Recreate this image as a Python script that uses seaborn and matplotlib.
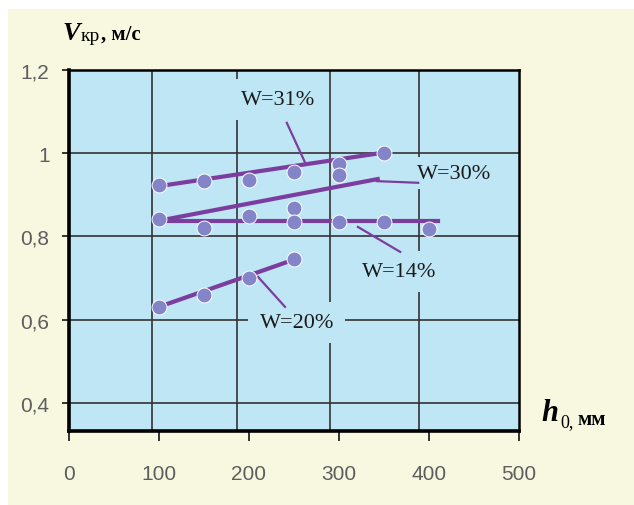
import matplotlib
matplotlib.use("Agg")
import matplotlib.pyplot as plt
from matplotlib.patches import Rectangle
from matplotlib.ticker import FixedLocator
import numpy as np
import pandas as pd
import seaborn as sns

# ---- measured points V_kr (m/s) against h0 (mm) ----
w31_h = [100, 150, 200, 250, 300, 350]
w31_v = [0.924, 0.933, 0.936, 0.955, 0.974, 1.0]

w30_h = [100, 200, 250, 300]
w30_v = [0.842, 0.849, 0.868, 0.948]

w14_h = [150, 250, 300, 350, 400]
w14_v = [0.820, 0.835, 0.835, 0.835, 0.818]

w20_h = [100, 150, 200, 250]
w20_v = [0.631, 0.659, 0.700, 0.746]

# ---- trend lines (end points) ----
w31_fit_h = [100, 345]
w31_fit_v = [0.921, 1.0]
w30_fit_h = [100, 343]
w30_fit_v = [0.838, 0.938]
w14_fit_h = [100, 410]
w14_fit_v = [0.837, 0.837]
w20_fit_h = [100, 252]
w20_fit_v = [0.631, 0.746]

# ---- series labels with leader lines ----
labels = ["W=31%", "W=30%", "W=14%", "W=20%"]
label_h = [232, 428, 367, 253]
label_v = [1.130, 0.952, 0.715, 0.594]
label_pad = [0.5, 0.3, 0.5, 0.5]
leader_h = [[242, 262], [342, 388], [321, 368], [210, 240]]
leader_v = [[1.073, 0.979], [0.933, 0.929], [0.823, 0.763], [0.703, 0.631]]

# ---- axes ----
x_ticks = [0, 100, 200, 300, 400, 500]
y_ticks = [0.4, 0.6, 0.8, 1.0, 1.2]
y_tick_labels = ["0,4", "0,6", "0,8", "1", "1,2"]
x_grid = [92, 187, 290, 389]

W, H, DPI = 634, 506, 100
YELLOW = "#f8f8e0"
BLUE = "#bfe6f4"
PURPLE = "#7b3e9e"
DOT = "#8484c8"
GRID = "#333333"
TICK_GREY = "#5e5e5e"

fig = plt.figure(figsize=(W / DPI, H / DPI), dpi=DPI, facecolor="white")
# cream panel behind the chart
fig.patches.append(Rectangle((8 / W, 0), 1 - 8 / W, 1 - 10 / H,
                             transform=fig.transFigure, facecolor=YELLOW,
                             edgecolor="none", zorder=-10))

ax = fig.add_axes([69 / W, 1 - 432 / H, 450 / W, 361 / H])
ax.set_zorder(1)
ax.set_facecolor(BLUE)
ax.set_xlim(0, 500)
ax.set_ylim(0.3327, 1.2)

# grid
ax.set_axisbelow(True)
ax.xaxis.set_major_locator(FixedLocator(x_ticks))
ax.xaxis.set_minor_locator(FixedLocator(x_grid))
ax.yaxis.set_major_locator(FixedLocator(y_ticks))
ax.set_yticklabels(y_tick_labels)
ax.grid(False)
ax.grid(True, which="minor", axis="x", color=GRID, lw=1.2, zorder=0.5)
ax.grid(True, which="major", axis="y", color=GRID, lw=1.2, zorder=0.5)

tick_font = dict(family="Liberation Sans", size=15, color=TICK_GREY)
for lab in ax.get_xticklabels() + ax.get_yticklabels():
    lab.set_fontfamily(tick_font["family"])
    lab.set_fontsize(tick_font["size"])
    lab.set_color(tick_font["color"])
ax.tick_params(axis="x", which="major", direction="out", length=7, width=1.4,
               color="#333333", pad=17)
ax.tick_params(axis="y", which="major", direction="out", length=5, width=1.4,
               color="#333333", pad=9)
ax.tick_params(axis="x", which="minor", length=0)

for side in ["left", "bottom"]:
    ax.spines[side].set_linewidth(2.6)
    ax.spines[side].set_color("black")
for side in ["top", "right"]:
    ax.spines[side].set_linewidth(1.8)
    ax.spines[side].set_color("black")

# trend lines
fits = [(w31_fit_h, w31_fit_v), (w30_fit_h, w30_fit_v),
        (w14_fit_h, w14_fit_v), (w20_fit_h, w20_fit_v)]
for fh, fv in fits:
    sns.lineplot(x=fh, y=fv, ax=ax, color=PURPLE, lw=3.0, estimator=None,
                 zorder=3, legend=False)

# leader lines
for lh, lv in zip(leader_h, leader_v):
    sns.lineplot(x=lh, y=lv, ax=ax, color=PURPLE, lw=1.6, estimator=None,
                 sort=False, zorder=3, legend=False)

# measured points
pts = pd.DataFrame({
    "h": w31_h + w30_h + w14_h + w20_h,
    "v": w31_v + w30_v + w14_v + w20_v,
    "series": (["W=31%"] * len(w31_h) + ["W=30%"] * len(w30_h)
               + ["W=14%"] * len(w14_h) + ["W=20%"] * len(w20_h)),
})
sns.scatterplot(data=pts, x="h", y="v", ax=ax, color=DOT, s=115,
                edgecolor="white", linewidth=0.7, zorder=4, legend=False)

# series labels
for txt, lh, lv, pad in zip(labels, label_h, label_v, label_pad):
    ax.text(lh, lv, txt, ha="center", va="center", family="Liberation Serif",
            fontsize=16, color="#1a1a1a", zorder=2.5,
            bbox=dict(boxstyle=f"square,pad={pad}", facecolor=BLUE,
                      edgecolor="none"))

ax.set_xlabel("")
ax.set_ylabel("")


def fx(px):
    return px / W


def fy(py):
    return 1 - py / H


# axis titles
fig.text(fx(62), fy(40), "V", family="Liberation Serif", style="italic",
         weight="bold", fontsize=19, ha="left", va="baseline")
fig.text(fx(81), fy(41), "кр", family="Liberation Serif", fontsize=14,
         ha="left", va="baseline")
fig.text(fx(101), fy(40), ", м/с", family="Liberation Serif", weight="bold",
         fontsize=15, ha="left", va="baseline")

fig.text(fx(541), fy(421), "h", family="Liberation Serif", style="italic",
         weight="bold", fontsize=22, ha="left", va="baseline")
fig.text(fx(560), fy(427), "0,", family="Liberation Serif", fontsize=13,
         ha="left", va="baseline")
fig.text(fx(577), fy(425), "мм", family="Liberation Serif", weight="bold",
         fontsize=15, ha="left", va="baseline")

fig.savefig("out.png", dpi=DPI, facecolor=fig.get_facecolor())
